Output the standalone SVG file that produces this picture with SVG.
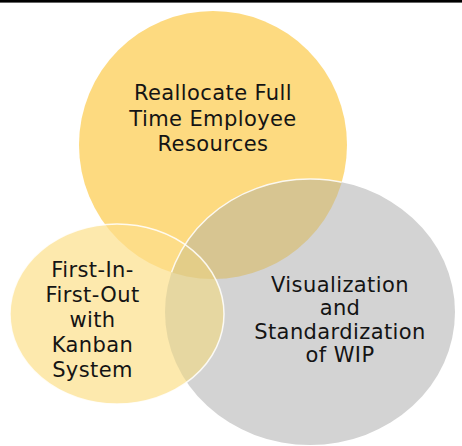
<svg xmlns="http://www.w3.org/2000/svg" xmlns:xlink="http://www.w3.org/1999/xlink" width="462" height="446" viewBox="0 0 462 446">
<style>
.t{font-family:"DejaVu Sans","Verdana",sans-serif;font-size:21px;fill:#141414;text-anchor:middle;letter-spacing:0.4px}
.ol{fill:none;stroke:#ffffff;stroke-width:1.5;stroke-opacity:0.85}
</style>
<defs>
<ellipse id="eTop" cx="213" cy="145" rx="134" ry="134"/>
<ellipse id="eGray" cx="310" cy="312" rx="145" ry="133"/>
<ellipse id="eSmall" cx="117" cy="314" rx="107" ry="90"/>
<clipPath id="cTop"><use xlink:href="#eTop"/></clipPath>
<clipPath id="cGray"><use xlink:href="#eGray"/></clipPath>
<clipPath id="cSmall"><use xlink:href="#eSmall"/></clipPath>
</defs>
<rect x="0" y="0" width="462" height="446" fill="#ffffff"/>
<rect x="0" y="0" width="462" height="2.6" fill="#000000"/>
<g id="node-top">
<use xlink:href="#eTop" fill="#FDDA80"/>
</g>
<g id="node-gray">
<use xlink:href="#eGray" fill="#D3D3D3"/>
<use xlink:href="#eGray" fill="#D7C591" clip-path="url(#cTop)"/>
</g>
<g id="node-small">
<use xlink:href="#eSmall" fill="#FDE9AD"/>
<use xlink:href="#eSmall" fill="#FDDD88" clip-path="url(#cTop)"/>
<use xlink:href="#eSmall" fill="#E6D7A1" clip-path="url(#cGray)"/>
<g clip-path="url(#cTop)"><use xlink:href="#eSmall" fill="#E3CD88" clip-path="url(#cGray)"/></g>
</g>
<g id="outlines">
<use xlink:href="#eGray" class="ol" clip-path="url(#cTop)"/>
<use xlink:href="#eSmall" class="ol"/>
</g>
<g id="labels">
<text class="t" x="213" y="100">Reallocate Full</text>
<text class="t" x="213" y="125.5">Time Employee</text>
<text class="t" x="213" y="151">Resources</text>
<text class="t" x="92.5" y="276.5">First-In-</text>
<text class="t" x="92.5" y="301.5">First-Out</text>
<text class="t" x="92.5" y="326.5">with</text>
<text class="t" x="92.5" y="351.5">Kanban</text>
<text class="t" x="92.5" y="376.5">System</text>
<text class="t" x="340" y="291.5">Visualization</text>
<text class="t" x="340" y="315">and</text>
<text class="t" x="340" y="338.5">Standardization</text>
<text class="t" x="340" y="362">of WIP</text>
</g>
</svg>
